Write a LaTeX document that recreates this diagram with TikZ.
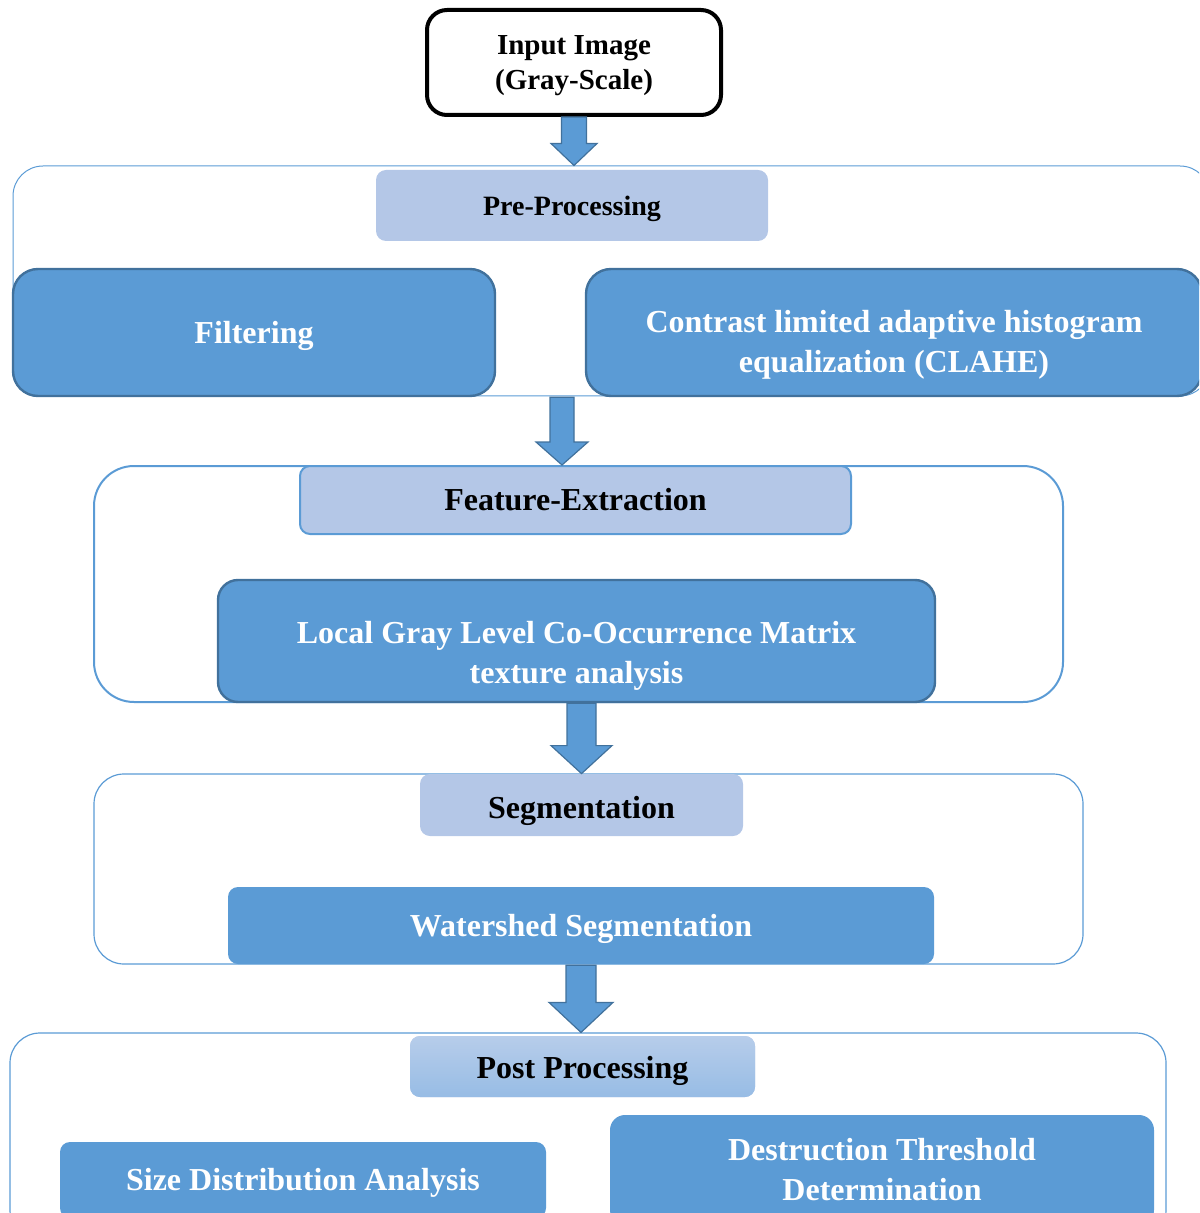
\documentclass[tikz,border=0pt]{standalone}
\usepackage{fontspec}
\setmainfont{Liberation Serif}
\usepackage{xcolor}
\usepackage{tikz}
\usetikzlibrary{positioning, calc}

\definecolor{stepblue}{HTML}{5B9BD5}
\definecolor{stepedge}{HTML}{41719C}
\definecolor{headblue}{HTML}{B4C7E7}
\definecolor{posttop}{HTML}{B7CDEA}
\definecolor{postbot}{HTML}{97BCE5}

% block arrow pointing down: start, tip, half shaft, half head, head length
\newcommand{\thickarrow}[5]{%
  \filldraw[arrowbody] ($(#1)+(-#3,0)$) -- ($(#2)+(-#3,-#5)$) -- ($(#2)+(-#4,-#5)$)
    -- (#2) -- ($(#2)+(#4,-#5)$) -- ($(#2)+(#3,-#5)$) -- ($(#1)+(#3,0)$) -- cycle;}

\begin{document}
\begin{tikzpicture}[
    x=0.5pt, y=-0.5pt,
    group/.style={
        rectangle,
        draw=stepblue,
        line width=0.6pt,
        rounded corners=15pt
    },
    header/.style={
        rectangle,
        fill=headblue,
        rounded corners=5pt,
        font=\bfseries\fontsize{16pt}{20pt}\selectfont,
        text=black
    },
    task/.style={
        rectangle,
        fill=stepblue,
        draw=stepedge,
        line width=1.2pt,
        rounded corners=10pt,
        align=center,
        font=\bfseries\fontsize{16pt}{20pt}\selectfont,
        text=white
    },
    lower/.style={
        text height=#1,
        text depth=3.5pt
    },
    arrowbody/.style={
        fill=stepblue,
        draw=stepedge,
        line width=0.6pt
    }
]
\path[use as bounding box, clip] (0,0) rectangle (1199,1213);

% Input
\node[draw=black, line width=2pt, rounded corners=10pt, minimum width=147pt, minimum height=52.5pt,
      align=center, font=\bfseries\fontsize{14.5pt}{17.5pt}\selectfont, text height=30.5pt, text depth=3.2pt]
      (inp) at (574,62.5) {Input Image\\(Gray-Scale)};

% Pre-Processing stage
\node[group, line width=0.5pt, minimum width=598.5pt, minimum height=115pt] (grp1) at (611.5,281) {};
\node[header, minimum width=196pt, minimum height=35.5pt, font=\bfseries\fontsize{14pt}{17pt}\selectfont,
      text height=13.1pt, text depth=3.1pt] (pre) at (572,205.5) {Pre-Processing};
\node[task, lower=14.8pt, rounded corners=12.5pt, minimum width=241pt, minimum height=63.5pt] (filt) at (254,332.5) {Filtering};
\node[task, lower=43pt, rounded corners=12.5pt, minimum width=308pt, minimum height=63.5pt] (clahe) at (894,332.5)
      {Contrast limited adaptive histogram\\equalization (CLAHE)};

% Feature-Extraction stage
\node[group, line width=1pt, rounded corners=20pt, minimum width=484.5pt, minimum height=118pt] (grp2) at (578.5,584) {};
\node[header, draw=stepblue, line width=1pt, minimum width=275.5pt, minimum height=34pt] (feat) at (575.5,500) {Feature-Extraction};
\node[task, lower=46pt, minimum width=358.5pt, minimum height=61pt] (glcm) at (576.5,641)
      {Local Gray Level Co-Occurrence Matrix\\texture analysis};

% Segmentation stage
\node[group, minimum width=494.5pt, minimum height=95pt] (grp3) at (588.5,869) {};
\node[header, lower=16.8pt, minimum width=161.5pt, minimum height=31pt] (seg) at (581.5,805) {Segmentation};
\node[task, lower=14.8pt, draw=none, rounded corners=5pt, minimum width=353pt, minimum height=38.5pt] (water) at (581,925.5) {Watershed Segmentation};

% Post Processing stage
\node[group, minimum width=578pt, minimum height=103.5pt] (grp4) at (588,1136.5) {};
\node[header, lower=15.8pt, top color=posttop, bottom color=postbot, minimum width=172.5pt, minimum height=30.5pt] (post) at (582.5,1066.5) {Post Processing};
\node[task, lower=13.8pt, draw=none, rounded corners=5pt, minimum width=243pt, minimum height=38pt] (size) at (303,1180) {Size Distribution Analysis};
\node[task, draw=none, rounded corners=7.5pt, minimum width=272pt, minimum height=55pt] (destr) at (882,1170)
      {Destruction Threshold\\Determination};

% Arrows
\coordinate (a1s) at (inp.south);
\coordinate (a1t) at (inp.south |- grp1.north);
\thickarrow{a1s}{a1t}{12.5}{23}{22}

\coordinate (a2) at (562,0);
\coordinate (a2s) at (a2 |- filt.south);
\coordinate (a2t) at (a2 |- feat.north);
\thickarrow{a2s}{a2t}{12}{26}{23}

\coordinate (a3s) at (seg.north |- glcm.south);
\coordinate (a3t) at (seg.north);
\thickarrow{a3s}{a3t}{14.5}{30.5}{28}

\coordinate (a4s) at (water.south);
\coordinate (a4t) at (water.south |- grp4.north);
\thickarrow{a4s}{a4t}{15}{32}{30}

\end{tikzpicture}
\end{document}
